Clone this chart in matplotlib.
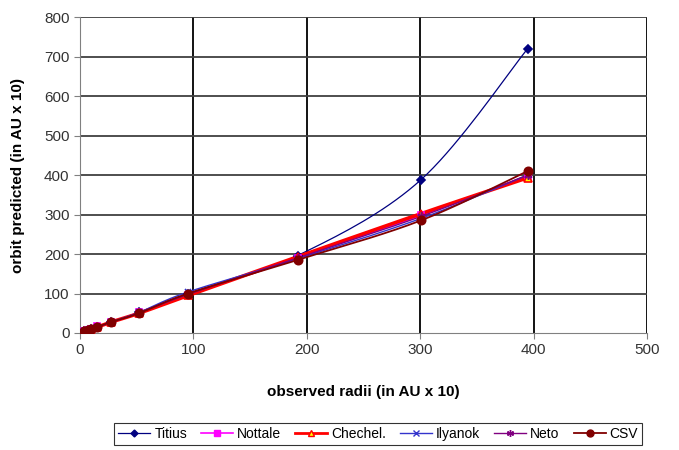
import numpy as np
import matplotlib
matplotlib.use("Agg")
import matplotlib.pyplot as plt

plt.rcParams['font.family'] = ['Liberation Sans', 'DejaVu Sans']

# observed radii (AU x 10)
observed = [3.9, 7.2, 10.0, 15.2, 27.7, 52.0, 95.4, 191.9, 300.7, 394.8]

titius = [4, 7, 10, 16, 28, 52, 100, 196, 388, 720]
nottale = [4.3, 7.7, 9.9, 16.8, 26.9, 52, 97, 190, 298, 398]
chechel = [3.9, 7.3, 10, 15, 28, 50, 95, 193, 302, 393]
ilyanok = [4, 7, 10, 15, 28, 52, 104, 188, 290, 400]
neto = [4, 7, 10, 15, 27, 51, 98, 190, 295, 400]
csv = [3.9, 7.2, 10, 15, 28, 50, 100, 185, 285, 410]

series = [
    ("Titius", titius, dict(color="#000080", lw=0.9, marker="D", ms=4.5, mfc="#000080", mec="#000080")),
    ("Nottale", nottale, dict(color="#ff00ff", lw=1.2, marker="s", ms=5, mfc="#ff00ff", mec="#ff00ff")),
    ("Chechel.", chechel, dict(color="#ff0000", lw=2.6, marker="^", ms=6, mfc="#ffff00", mec="#ff0000")),
    ("Ilyanok", ilyanok, dict(color="#3333cc", lw=1.0, marker="x", ms=5, mfc="none", mec="#3333cc")),
    ("Neto", neto, dict(color="#800080", lw=1.0, marker=(6, 2, 0), ms=6, mfc="none", mec="#800080")),
    ("CSV", csv, dict(color="#800000", lw=1.3, marker="o", ms=6, mfc="#800000", mec="#800000")),
]


def smooth(x, y, n=20):
    # Catmull-Rom style smoothing like Excel's smoothed line
    x = np.asarray(x, float)
    y = np.asarray(y, float)
    px = np.concatenate([[x[0]], x, [x[-1]]])
    py = np.concatenate([[y[0]], y, [y[-1]]])
    xs, ys = [], []
    t = np.linspace(0, 1, n)
    for i in range(1, len(px) - 2):
        for arr, out in ((px, xs), (py, ys)):
            p0, p1, p2, p3 = arr[i - 1], arr[i], arr[i + 1], arr[i + 2]
            out.extend(0.5 * ((2 * p1) + (-p0 + p2) * t
                              + (2 * p0 - 5 * p1 + 4 * p2 - p3) * t ** 2
                              + (-p0 + 3 * p1 - 3 * p2 + p3) * t ** 3))
    return xs, ys


fig = plt.figure(figsize=(6.79, 4.5), dpi=100)
ax = fig.add_axes([0.1178, 0.26, 0.835, 0.7022])

for name, ys, st in series:
    sx, sy = smooth(observed, ys)
    ax.plot(sx, sy, color=st["color"], lw=st["lw"], zorder=3)
    ax.plot(observed, ys, ls="none", marker=st["marker"], ms=st["ms"],
            mfc=st["mfc"], mec=st["mec"], mew=1.2, zorder=4)

ax.set_xlim(0, 500)
ax.set_ylim(0, 800)
ax.set_xticks(range(0, 501, 100))
ax.set_yticks(range(0, 801, 100))
for v in range(100, 501, 100):
    ax.axvline(v, color="black", lw=1.3, zorder=1)
for v in range(100, 801, 100):
    ax.axhline(v, color="#404040", lw=1.3, zorder=1)

for s in ("top", "right"):
    ax.spines[s].set_visible(False)
for s in ("left", "bottom"):
    ax.spines[s].set_color("#808080")
ax.tick_params(axis="both", labelsize=11, labelcolor="#333333", color="#808080", length=4)

ax.set_xlabel("observed radii (in AU x 10)", fontsize=11, fontweight="bold", labelpad=20)
ax.set_ylabel("orbit predicted (in AU x 10)", fontsize=11, fontweight="bold", labelpad=14)

handles = []
for name, ys, st in series:
    h, = ax.plot([], [], color=st["color"], lw=min(st["lw"], 2.0), marker=st["marker"],
                 ms=st["ms"] - 1, mfc=st["mfc"], mec=st["mec"], label=name)
    handles.append(h)
leg = fig.legend(handles=handles, loc="center", bbox_to_anchor=(0.557, 0.035), ncol=6,
                 fontsize=10, frameon=True, fancybox=False, handlelength=2.3,
                 handletextpad=0.3, columnspacing=1.0, borderpad=0.3)
leg.get_frame().set_edgecolor("black")
leg.get_frame().set_linewidth(0.8)

fig.savefig("out.png", dpi=100)
